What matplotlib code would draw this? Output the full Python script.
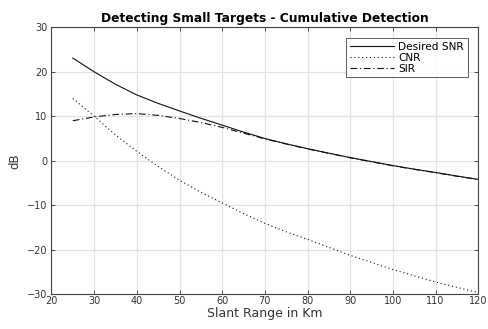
import matplotlib
matplotlib.use("Agg")
import matplotlib.pyplot as plt

plt.rcParams['font.family'] = ['DejaVu Sans']

range_km = [25, 30, 35, 40, 45, 50, 55, 60, 65, 70, 75, 80, 85, 90, 95, 100, 105, 110, 115, 120]
snr_db = [23.1, 20.0, 17.2, 14.8, 12.9, 11.2, 9.55, 8.0, 6.45, 5.0, 3.8, 2.7, 1.7, 0.7, -0.2, -1.1, -1.9, -2.65, -3.45, -4.2]
cnr_db = [14.0, 10.0, 5.8, 2.1, -1.3, -4.4, -7.1, -9.5, -11.9, -14.1, -16.0, -17.7, -19.5, -21.3, -22.9, -24.5, -25.9, -27.3, -28.5, -29.7]
sir_db = [9.0, 9.85, 10.4, 10.6, 10.2, 9.5, 8.6, 7.5, 6.2, 4.9, 3.75, 2.65, 1.65, 0.65, -0.25, -1.15, -1.95, -2.7, -3.5, -4.25]

xticks = [20, 30, 40, 50, 60, 70, 80, 90, 100, 110, 120]
yticks = [-30, -20, -10, 0, 10, 20, 30]

fig = plt.figure(figsize=(4.89, 3.29), dpi=100)
ax = fig.add_axes([0.1053, 0.1064, 0.8727, 0.8103])

ax.plot(range_km, snr_db, color='#111111', lw=0.8, ls='-', label='Desired SNR')
ax.plot(range_km, cnr_db, color='#111111', lw=0.8, ls=(0, (1, 2.5)), label='CNR')
ax.plot(range_km, sir_db, color='#111111', lw=0.8, ls=(0, (6, 2.5, 1, 2.5)), label='SIR')

ax.set_xlim(20, 120)
ax.set_ylim(-30, 30)
ax.set_xticks(xticks)
ax.set_yticks(yticks)
ax.grid(True, color='#e3e3e3', lw=0.9)
ax.set_axisbelow(True)
ax.tick_params(direction='in', length=3, width=0.6, labelsize=7, colors='#333333',
               top=True, right=True)
ax.tick_params(axis='x', pad=1.5)
ax.tick_params(axis='y', pad=3)
for s in ax.spines.values():
    s.set_color('#444444')
    s.set_linewidth(0.8)

ax.set_title('Detecting Small Targets - Cumulative Detection', fontsize=8.8,
             fontweight='bold', pad=4)
ax.set_xlabel('Slant Range in Km', fontsize=9, color='#333333', labelpad=0.5)
ax.set_ylabel('dB', fontsize=8.5, color='#333333', labelpad=4)

leg = ax.legend(loc='upper right', fontsize=7.6, handlelength=4.2, frameon=True,
                fancybox=False, edgecolor='#333333', borderpad=0.35,
                labelspacing=0.1, handletextpad=0.4, borderaxespad=1.0)
leg.get_frame().set_linewidth(0.7)

fig.savefig('out.png', dpi=100)
